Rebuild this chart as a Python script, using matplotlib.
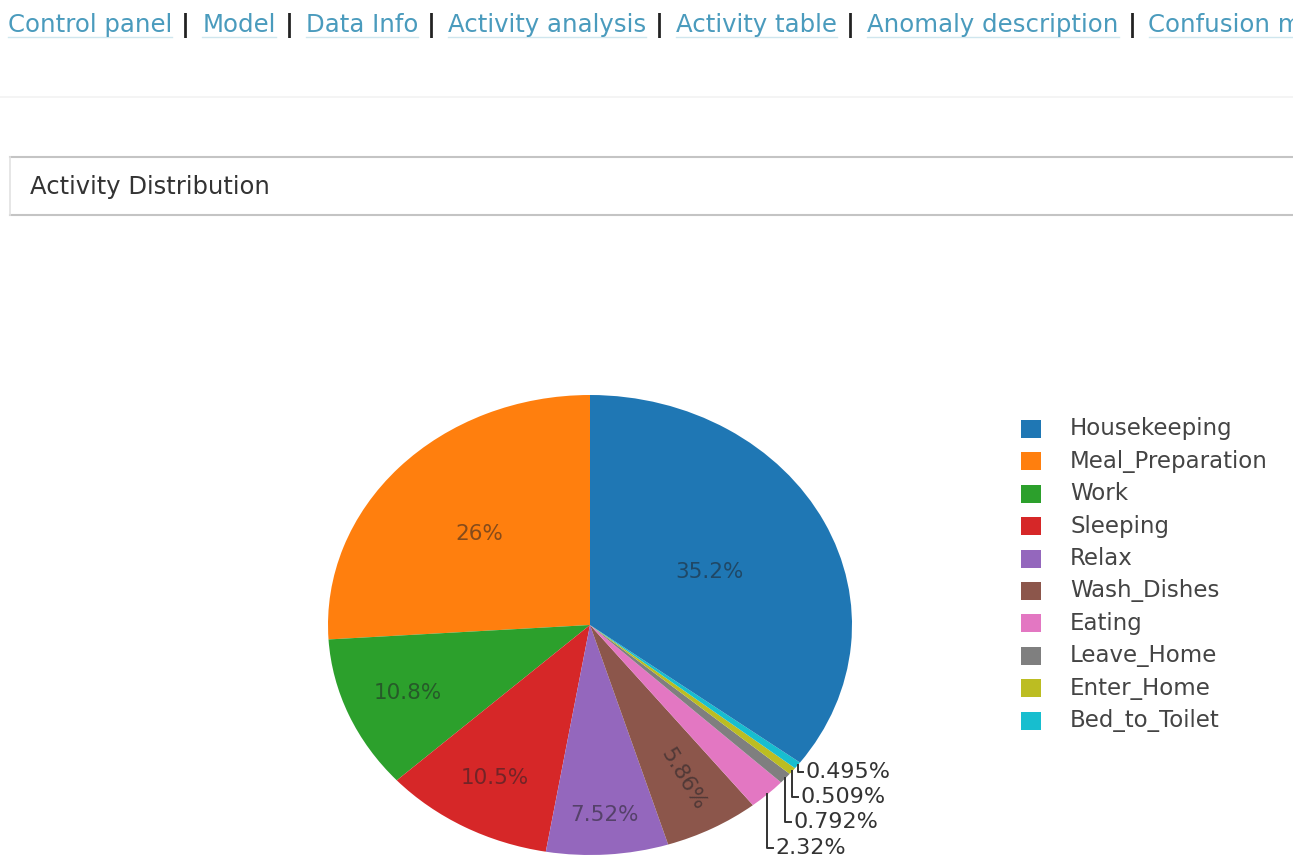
import numpy as np
import matplotlib
matplotlib.use("Agg")
import matplotlib.pyplot as plt
from matplotlib.colors import to_rgb

# ---- data -------------------------------------------------------------
activities = ["Housekeeping", "Meal_Preparation", "Work", "Sleeping", "Relax",
              "Wash_Dishes", "Eating", "Leave_Home", "Enter_Home", "Bed_to_Toilet"]
shares = [35.2, 26.0, 10.8, 10.5, 7.52, 5.86, 2.32, 0.792, 0.509, 0.495]
colors = ["#1f77b4", "#ff7f0e", "#2ca02c", "#d62728", "#9467bd",
          "#8c564b", "#e377c2", "#7f7f7f", "#bcbd22", "#17becf"]
nav_items = ["Control panel", "Model", "Data Info", "Activity analysis",
             "Activity table", "Anomaly description", "Confusion matrix"]
title = "Activity Distribution"

# ---- layout -----------------------------------------------------------
W, H = 1293, 858
fig = plt.figure(figsize=(W / 100, H / 100), dpi=100)
fig.patch.set_facecolor("white")

bg = fig.add_axes([0, 0, 1, 1])
bg.set_xlim(0, W)
bg.set_ylim(H, 0)
bg.axis("off")
renderer = fig.canvas.get_renderer()

# navigation bar: underlined links separated by bars, laid out left to right
link_color = "#4a9bbd"
nav_size = 17.6
x = 8
for k, name in enumerate(nav_items):
    t = bg.text(x, 25, name, fontsize=nav_size, color=link_color,
                va="center", ha="left")
    x1 = t.get_window_extent(renderer).x1
    bg.plot([x, min(x1, W)], [37, 37], color="#cfe6ee", lw=1.0)
    x = x1
    if k < len(nav_items) - 1:
        s = bg.text(x + 9, 25, "|", fontsize=nav_size, color="#222222",
                    va="center", ha="left", fontweight="bold")
        x = s.get_window_extent(renderer).x1 + 12
bg.plot([0, W], [97, 97], color="#f2f2f2", lw=1.2)

# title panel
bg.plot([10, W], [157, 157], color="#c4c4c4", lw=1.5)
bg.plot([10, W], [215, 215], color="#c4c4c4", lw=1.5)
bg.plot([10, 10], [157, 215], color="#e2e2e2", lw=1.2)
bg.text(30, 187, title, fontsize=17.5, color="#333333", va="center", ha="left")

# ---- pie --------------------------------------------------------------
cx, cy, rx, ry = 590, 625, 262, 230
pie_ax = fig.add_axes([(cx - rx) / W, (H - cy - ry) / H, 2 * rx / W, 2 * ry / H])
order = list(np.roll(np.arange(len(shares)), -1))
vals = [shares[i] for i in order]
cols = [colors[i] for i in order]
wedges, _ = pie_ax.pie(vals, colors=cols, startangle=90, counterclock=True,
                       wedgeprops=dict(linewidth=0))
pie_ax.set_aspect("auto")
pie_ax.set_xlim(-1, 1)
pie_ax.set_ylim(-1, 1)


def pct(v):
    return f"{v:.3g}%"


def dark(c, k=0.55):
    r = np.array(to_rgb(c))
    return tuple(r * (1 - k) + np.array([0.13, 0.13, 0.15]) * k)


mid = {}
for w, i in zip(wedges, order):
    mid[i] = np.deg2rad((w.theta1 + w.theta2) / 2)

# labels inside the larger slices
inside_r = {0: 0.51, 1: 0.58, 2: 0.755, 3: 0.76, 4: 0.83, 5: 0.76}
for i, r in inside_r.items():
    a = mid[i]
    rot = 0
    if i == 5:
        rot = np.rad2deg(np.arctan2(np.sin(a) * ry, np.cos(a) * rx))
    pie_ax.text(r * np.cos(a), r * np.sin(a), pct(shares[i]), ha="center",
                va="center", fontsize=15.5, color=dark(colors[i]), rotation=rot)

# labels outside the small slices, with elbow leader lines
outside_y = {9: -0.639, 8: -0.748, 7: -0.857, 6: -0.970}
for i, ly in outside_y.items():
    a = mid[i]
    ex, ey = np.cos(a), np.sin(a)
    pie_ax.plot([ex, ex, ex + 0.022], [ey, ly, ly], color="#333333", lw=1.4,
                clip_on=False)
    pie_ax.text(ex + 0.03, ly, pct(shares[i]), ha="left", va="center",
                fontsize=16, color="#333333", clip_on=False)

# ---- legend -----------------------------------------------------------
leg_y0, leg_dy = 429, 32.4
for k, (name, c) in enumerate(zip(activities, colors)):
    y = leg_y0 + k * leg_dy
    bg.add_patch(plt.Rectangle((1021, y - 9), 20, 18, facecolor=c,
                               edgecolor="none"))
    bg.text(1070, y, name, fontsize=16.5, color="#444444", va="center",
            ha="left")

fig.savefig("out.png", dpi=100, facecolor="white")
